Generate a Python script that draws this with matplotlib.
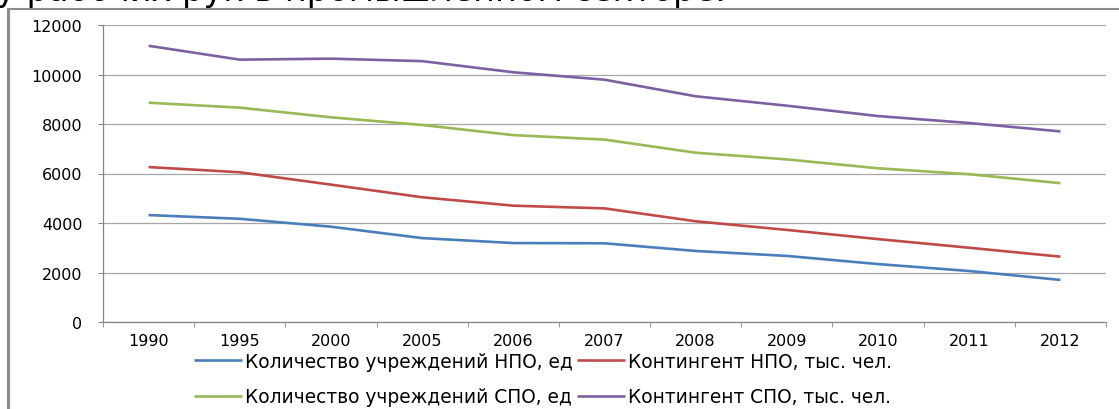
import matplotlib
matplotlib.use("Agg")
import matplotlib.pyplot as plt
from matplotlib.lines import Line2D
import numpy as np

plt.rcParams['font.family'] = ['DejaVu Sans']

years = ["1990", "1995", "2000", "2005", "2006", "2007", "2008", "2009", "2010", "2011", "2012"]
npo_inst = [4320, 4170, 3850, 3390, 3190, 3180, 2870, 2670, 2340, 2060, 1700]
npo_cont = [6260, 6050, 5550, 5040, 4700, 4590, 4070, 3720, 3350, 3000, 2640]
spo_inst = [8860, 8660, 8270, 7960, 7550, 7370, 6840, 6570, 6210, 5970, 5610]
spo_cont = [11160, 10600, 10640, 10540, 10090, 9790, 9120, 8740, 8320, 8040, 7700]

labels = ["Количество учреждений НПО, ед", "Контингент НПО, тыс. чел.",
          "Количество учреждений СПО, ед", "Контингент СПО, тыс. чел."]
colors = ["#4A7EBB", "#BE4B48", "#98B954", "#7D60A0"]

fig = plt.figure(figsize=(11.19, 4.10), dpi=100)
ax = fig.add_axes([103 / 1119, 87 / 410, (1106 - 103) / 1119, (323 - 26) / 410])

x = np.arange(len(years))
series = [npo_inst, npo_cont, spo_inst, spo_cont]
handles = []
for vals, c, lab in zip(series, colors, labels):
    h, = ax.plot(x, vals, color=c, lw=1.9, label=lab, solid_capstyle='butt')
    handles.append(h)

ax.set_xlim(-0.5, len(years) - 0.5)
ax.set_ylim(0, 12000)
ax.set_yticks(range(0, 12001, 2000))
ax.set_xticks(x)
ax.set_xticklabels(years)
ax.set_xticks(np.arange(-0.5, len(years), 1), minor=True)
ax.tick_params(axis='x', which='major', length=0, pad=8, labelsize=11.5, colors='black')
ax.tick_params(axis='x', which='minor', length=3.8, color='#868686', direction='out')
ax.tick_params(axis='y', length=3.8, color='#868686', pad=11, labelsize=11.5)
ax.grid(axis='y', color='#a6a6a6', lw=0.9)
ax.set_axisbelow(True)
for s in ['top', 'right']:
    ax.spines[s].set_visible(False)
for s in ['left', 'bottom']:
    ax.spines[s].set_color('#868686')
    ax.spines[s].set_linewidth(0.9)

# legend in two rows
order = [0, 2, 1, 3]
fig.legend([handles[i] for i in order], [labels[i] for i in order], ncol=2,
           loc='upper left', bbox_to_anchor=(194 / 1119, 1 - 353 / 410),
           frameon=False, fontsize=13.4, handlelength=2.6, handletextpad=0.15,
           columnspacing=0.2, labelspacing=0.88, borderpad=0, borderaxespad=0)

# frame around chart (clipped by page)
fig.add_artist(Line2D([8 / 1119, 8 / 1119], [0, 1 - 10 / 410], color='#8c8c8c', lw=2.2))
fig.add_artist(Line2D([8 / 1119, 1], [1 - 10 / 410, 1 - 10 / 410], color='#8c8c8c', lw=1.5))

# cut-off heading above the chart
fig.text(-0.004, 1 - 0.5 / 410, "у рабочих рук в промышленном секторе.", fontsize=24.2,
         va='baseline', ha='left', color='black')

fig.savefig("out.png", dpi=100)
